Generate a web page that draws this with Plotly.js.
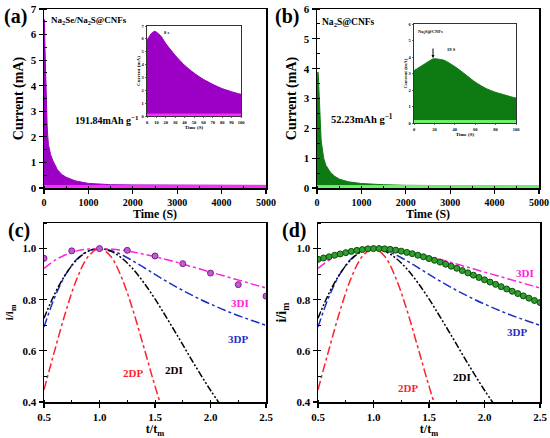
<!DOCTYPE html>
<html><head><meta charset="utf-8">
<script src="https://cdn.plot.ly/plotly-3.0.1.min.js"></script>
<style>html,body{margin:0;padding:0;background:#fff}#g{width:550px;height:438px}</style>
</head><body><div id="g"></div>
<script>
// ---- data ----
var timeA = [0,5,8,10,15,20,30,40,50,60,70,80,90,100,150,200,300,400,500,700,1000,1500,2000,3000,4000,5000];
var currentA = [5.89,6.45,6.59,6.53,6.2,5.63,4.72,3.94,3.34,2.85,2.46,2.13,1.89,1.69,1.3,1.07,0.72,0.53,0.42,0.28,0.18,0.13,0.12,0.11,0.1,0.1];
var baseTimeA = [0,5000];
var baseA = [0.1,0.1];
var baseInsetA = [0.15,0.15];
var timeB = [0,5,10,15,19,25,30,40,50,60,70,80,90,100,150,200,300,400,500,700,1000,1500,2000,3000,4000,5000];
var currentB = [3.17,3.37,3.56,3.76,3.89,3.86,3.79,3.42,2.96,2.48,2.11,1.86,1.68,1.51,1.0,0.76,0.53,0.39,0.3,0.21,0.15,0.11,0.09,0.08,0.07,0.07];
var baseB = [0.08,0.08];
var baseInsetB = [0.15,0.15];

var tm = [0.5,0.6,0.7,0.8,0.9,1.0,1.1,1.2,1.3,1.4,1.5,1.6,1.7,1.8,1.9,2.0,2.1,2.2,2.3,2.4,2.5];
var m3DI = [0.922,0.955,0.977,0.991,0.998,1.0,0.998,0.994,0.987,0.978,0.968,0.957,0.946,0.933,0.921,0.908,0.896,0.883,0.871,0.858,0.846];
var m3DP = [0.693,0.813,0.902,0.960,0.991,1.0,0.993,0.976,0.952,0.926,0.899,0.873,0.848,0.825,0.803,0.783,0.764,0.746,0.730,0.715,0.700];
var t2DI = [0.5,0.6,0.7,0.8,0.9,1.0,1.1,1.2,1.3,1.4,1.5,1.6,1.7,1.8,1.9,2.0,2.1];
var m2DI = [0.728,0.826,0.903,0.958,0.990,1.0,0.990,0.963,0.921,0.866,0.803,0.733,0.661,0.587,0.515,0.446,0.382];
var t2DP = [0.5,0.6,0.7,0.8,0.9,1.0,1.1,1.2,1.3,1.4,1.5,1.6];
var m2DP = [0.448,0.607,0.759,0.886,0.970,1.0,0.970,0.886,0.761,0.613,0.462,0.325];

var expTc = [0.5,0.75,1.0,1.25,1.5,1.75,2.0,2.25,2.5];
var expIc = [0.962,0.991,1.0,0.993,0.971,0.941,0.904,0.859,0.814];
var expTd = [0.5,0.55,0.6,0.65,0.7,0.75,0.8,0.85,0.9,0.95,1.0,1.05,1.1,1.15,1.2,1.25,1.3,1.35,1.4,1.45,1.5,1.55,1.6,1.65,1.7,1.75,1.8,1.85,1.9,1.95,2.0,2.05,2.1,2.15,2.2,2.25,2.3,2.35,2.4,2.45,2.5];
var expId = [0.958,0.963,0.968,0.974,0.979,0.984,0.989,0.993,0.996,0.999,1.0,1.0,0.999,0.997,0.994,0.990,0.985,0.980,0.974,0.968,0.961,0.954,0.947,0.939,0.931,0.923,0.914,0.905,0.896,0.887,0.878,0.869,0.860,0.851,0.842,0.833,0.824,0.815,0.806,0.797,0.789];

// ---- styling ----
var W=550,H=438;
function px(x){return x/W;} function py(y){return 1-y/H;}
var FF='Liberation Serif';
var purple='#9c00c4', magenta='#ff2cff', dgreen='#0e7a12', lgreen='#6ef06e';

var traces = [
  {x:timeA,y:currentA,xaxis:'x',yaxis:'y',type:'scatter',mode:'lines',fill:'tozeroy',fillcolor:purple,line:{color:purple,width:1}},
  {x:baseTimeA,y:baseA,xaxis:'x',yaxis:'y',type:'scatter',mode:'lines',fill:'tozeroy',fillcolor:magenta,line:{color:magenta,width:1}},
  {x:timeA,y:currentA,xaxis:'x2',yaxis:'y2',type:'scatter',mode:'lines',fill:'tozeroy',fillcolor:purple,line:{color:purple,width:1,shape:'spline',smoothing:0.6}},
  {x:baseTimeA,y:baseInsetA,xaxis:'x2',yaxis:'y2',type:'scatter',mode:'lines',fill:'tozeroy',fillcolor:magenta,line:{color:magenta,width:1}},
  {x:timeB,y:currentB,xaxis:'x3',yaxis:'y3',type:'scatter',mode:'lines',fill:'tozeroy',fillcolor:dgreen,line:{color:dgreen,width:1}},
  {x:baseTimeA,y:baseB,xaxis:'x3',yaxis:'y3',type:'scatter',mode:'lines',fill:'tozeroy',fillcolor:lgreen,line:{color:lgreen,width:1}},
  {x:timeB,y:currentB,xaxis:'x4',yaxis:'y4',type:'scatter',mode:'lines',fill:'tozeroy',fillcolor:dgreen,line:{color:dgreen,width:1,shape:'spline',smoothing:0.6}},
  {x:baseTimeA,y:baseInsetB,xaxis:'x4',yaxis:'y4',type:'scatter',mode:'lines',fill:'tozeroy',fillcolor:lgreen,line:{color:lgreen,width:1}}
];
function models(xa,ya){
  return [
    {x:tm,y:m3DP,xaxis:xa,yaxis:ya,mode:'lines',line:{color:'#1f2fbf',width:1.5,dash:'dashdot',shape:'spline'}},
    {x:t2DI,y:m2DI,xaxis:xa,yaxis:ya,mode:'lines',line:{color:'#000',width:1.5,dash:'7px,2px,2px,2px,2px,2px',shape:'spline'}},
    {x:t2DP,y:m2DP,xaxis:xa,yaxis:ya,mode:'lines',line:{color:'#ff1f2f',width:1.5,dash:'dashdot',shape:'spline'}},
    {x:tm,y:m3DI,xaxis:xa,yaxis:ya,mode:'lines',line:{color:'#ff22dd',width:1.5,dash:'dashdot',shape:'spline'}}
  ];
}
traces = traces.concat(models('x5','y5'));
traces.push({x:expTc,y:expIc,xaxis:'x5',yaxis:'y5',mode:'markers',marker:{size:6,color:'#c45ad2',line:{color:'#7a1e8a',width:1}}});
traces = traces.concat(models('x6','y6'));
traces.push({x:expTd,y:expId,xaxis:'x6',yaxis:'y6',mode:'markers',marker:{size:6,color:'#2f9e2f',line:{color:'#0b4d0b',width:1}}});

function ax(dom,range,dtick,minorD,opt){
  var o={domain:dom,range:range,dtick:dtick,tick0:range[0],showline:true,mirror:true,linecolor:'#000',linewidth:1.5,
    ticks:'outside',ticklen:4,tickwidth:1.2,tickcolor:'#000',showgrid:false,zeroline:false,ticklabeloverflow:'allow',
    tickfont:{family:FF,size:11,color:'#000',weight:'bold'},
    minor:{dtick:minorD,ticks:'inside',ticklen:2.5,tickwidth:1,tickcolor:'#000',showgrid:false}};
  for(var k in opt)o[k]=opt[k];
  return o;
}
function tt(text,size,standoff){return {text:text,font:{family:FF,size:size,color:'#000',weight:'bold'},standoff:standoff};}
var small={family:FF,size:4.5,color:'#000',weight:'bold'};
var mid={family:FF,size:10,color:'#000',weight:'bold'};

var layout={
  width:W,height:H,margin:{l:0,r:0,t:0,b:0},showlegend:false,paper_bgcolor:'#fff',plot_bgcolor:'rgba(0,0,0,0)',
  font:{family:FF,color:'#000',weight:'bold'},
  xaxis:ax([px(44),px(266)],[0,5000],1000,500,{title:tt('Time (S)',12,2),anchor:'y',tickfont:mid}),
  yaxis:ax([py(188),py(9)],[0,7],1,0.5,{title:tt('Current (mA)',14,4),anchor:'x'}),
  xaxis2:ax([px(147),px(241)],[0,100],10,5,{anchor:'y2',tickfont:small,ticklen:1.5,linewidth:0.8,tickwidth:0.6,title:tt('Time (S)',5,0),minor:{ticks:''}}),
  yaxis2:ax([py(116),py(26)],[0,7],1,0.5,{anchor:'x2',tickfont:small,ticklen:1.5,linewidth:0.8,tickwidth:0.6,title:tt('Current (mA)',5,0),minor:{ticks:''}}),
  xaxis3:ax([px(317),px(539)],[0,5000],1000,500,{title:tt('Time (S)',12,2),anchor:'y3',tickfont:mid}),
  yaxis3:ax([py(188),py(9)],[0,6],1,0.5,{title:tt('Current (mA)',14,4),anchor:'x3'}),
  xaxis4:ax([px(414),px(516)],[0,100],20,10,{anchor:'y4',tickfont:small,ticklen:1.5,linewidth:0.8,tickwidth:0.6,title:tt('Time (S)',5,0),minor:{ticks:''}}),
  yaxis4:ax([py(123),py(24)],[0,6],1,0.5,{anchor:'x4',tickfont:small,ticklen:1.5,linewidth:0.8,tickwidth:0.6,title:tt('Current (mA)',5,0),minor:{ticks:''}}),
  xaxis5:ax([px(44),px(266)],[0.5,2.5],0.5,0.25,{title:tt('t/t<sub>m</sub>',12,6),anchor:'y5',tickformat:'.1f'}),
  yaxis5:ax([py(402),py(223)],[0.4,1.1],0.2,0.1,{title:tt('i/i<sub>m</sub>',11,6),anchor:'x5',tick0:0.4,tickformat:'.1f'}),
  xaxis6:ax([px(318),px(540)],[0.5,2.5],0.5,0.25,{title:tt('t/t<sub>m</sub>',12,6),anchor:'y6',tickformat:'.1f'}),
  yaxis6:ax([py(402),py(223)],[0.4,1.1],0.2,0.1,{title:tt('i/i<sub>m</sub>',14,6),anchor:'x6',tick0:0.4,tickformat:'.1f'}),
  annotations:[]
};
function note(text,x,y,size,color,xanchor){
  layout.annotations.push({text:text,xref:'paper',yref:'paper',x:px(x),y:py(y),showarrow:false,xanchor:xanchor||'center',yanchor:'middle',
    font:{family:FF,size:size,color:color||'#000',weight:'bold'}});
}
note('(a)',15,16,20); note('(b)',287,16,20); note('(c)',19,230,20); note('(d)',294,230,20);
note('Na<sub>2</sub>Se/Na<sub>2</sub>S@CNFs',49,20,9,'#000','left');
note('191.84mAh g<sup>−1</sup>',73,120,10,'#000','left');
note('8 s',162,33,4.5,'#000','left');
note('Na<sub>2</sub>S@CNFs',320,22,9.5,'#000','left');
note('52.23mAh g<sup>−1</sup>',329,118,10.5,'#000','left');
note('Na<sub>2</sub>S@CNFs',416,32,4.5,'#000','left');
note('19 S',445,50,4.5,'#000','left');
layout.annotations.push({xref:'paper',yref:'paper',x:px(433),y:py(58),ax:0,ay:-11,showarrow:true,arrowhead:2,arrowsize:0.6,arrowwidth:1,arrowcolor:'#000',text:''});
note('3DI',240,303,11,'#ff22dd'); note('3DP',238,339,11,'#1f2fbf'); note('2DI',174,370,11,'#000'); note('2DP',133,373,11,'#ff1f2f');
note('3DI',525,273,11,'#ff22dd'); note('3DP',517,332,11,'#1f2fbf'); note('2DI',462,377,11,'#000'); note('2DP',408,388,11,'#ff1f2f');

Plotly.newPlot('g',traces,layout,{displayModeBar:false,staticPlot:true});
</script></body></html>
